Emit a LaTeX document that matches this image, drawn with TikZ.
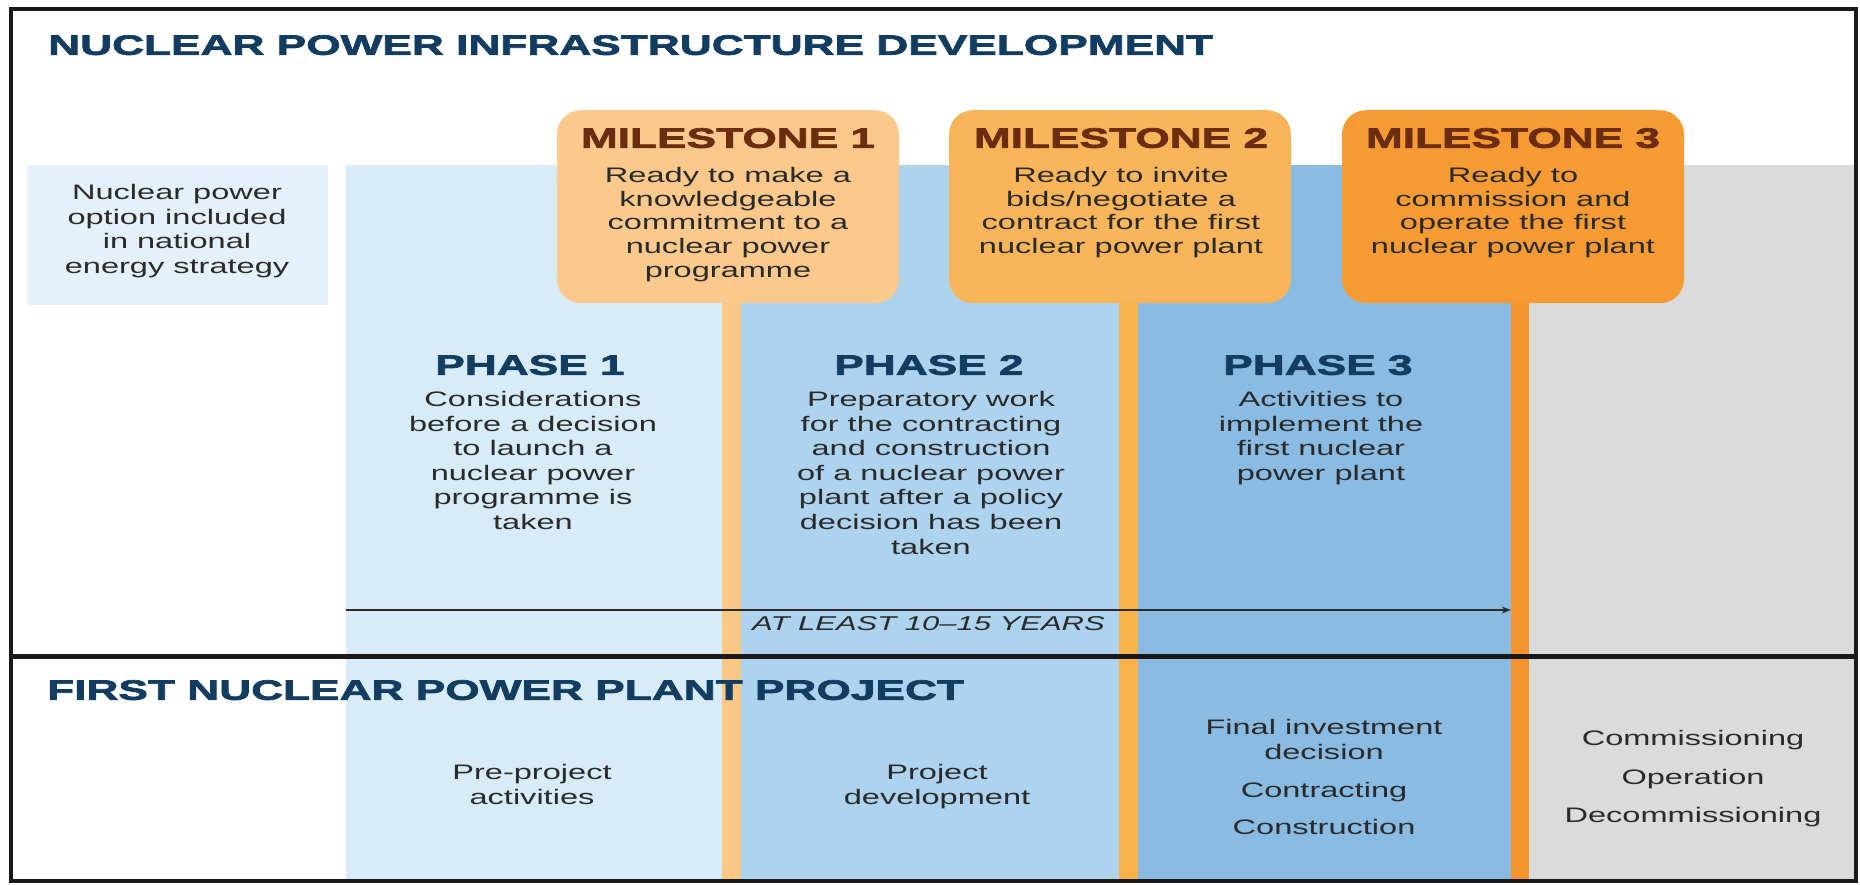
\documentclass[tikz,border=0pt]{standalone}
\usepackage{fontspec}
\setmainfont{Liberation Sans}[FakeStretch=1.55]
\newfontfamily\headfont{Liberation Sans Bold}[FakeStretch=1.58,FakeBold=2.6]
\usepackage{tikz}
\usetikzlibrary{arrows.meta,positioning}

\definecolor{navy}{HTML}{123D60}
\definecolor{msbrown}{HTML}{6B2C10}
\definecolor{txt}{HTML}{2A2A2A}
\definecolor{leftcol}{HTML}{E4F1FA}
\definecolor{ph1col}{HTML}{D7ECF8}
\definecolor{ph2col}{HTML}{ADD3EE}
\definecolor{ph3col}{HTML}{8ABCE3}
\definecolor{greycol}{HTML}{DBDBDB}
\definecolor{st1}{HTML}{F9C885}
\definecolor{st2}{HTML}{F8B24A}
\definecolor{st3}{HTML}{F6942E}
\definecolor{ms1}{HTML}{FBC98C}
\definecolor{ms2}{HTML}{F9B55A}
\definecolor{ms3}{HTML}{F69A33}

\begin{document}
\begin{tikzpicture}[x=1pt, y=-1pt, >=Stealth,
    body/.style={font=\fontsize{21}{24.6}\selectfont, text=txt, align=center, inner sep=0pt, anchor=north},
    msbody/.style={body, font=\fontsize{21}{23.7}\selectfont},
    head/.style={font=\headfont\fontsize{28}{32}\selectfont, text=navy, inner sep=0pt, anchor=north},
    mstitle/.style={head, text=msbrown},
    msbox/.style={rounded corners=24pt, minimum width=342pt, minimum height=193pt, inner sep=0pt, anchor=north}]
    \useasboundingbox (0,0) rectangle (1860,884);

    % Column backgrounds and milestone stripes
    \fill[leftcol] (27,165) rectangle (328,305);
    \fill[ph1col] (346,165) rectangle (722,880);
    \fill[st1] (722,165) rectangle (741,880);
    \fill[ph2col] (741,165) rectangle (1119,880);
    \fill[st2] (1119,165) rectangle (1138,880);
    \fill[ph3col] (1138,165) rectangle (1511,880);
    \fill[st3] (1511,165) rectangle (1529,880);
    \fill[greycol] (1529,165) rectangle (1856,880);

    % Titles
    \node[head, anchor=north west] (infra) at (48,35) {NUCLEAR POWER INFRASTRUCTURE DEVELOPMENT};
    \node[head, anchor=north west] (project) at (47,680) {FIRST NUCLEAR POWER PLANT PROJECT};

    \node[body] (option) at (177,184) {Nuclear power\\option included\\in national\\energy strategy};

    % Milestones
    \node[msbox, fill=ms1] (m1box) at (728,110) {};
    \node[msbox, fill=ms2] (m2box) at (1120,110) {};
    \node[msbox, fill=ms3] (m3box) at (1513,110) {};

    \node[mstitle] (m1title) at (728,128) {MILESTONE 1};
    \node[mstitle] (m2title) at (1121,128) {MILESTONE 2};
    \node[mstitle] (m3title) at (1513,128) {MILESTONE 3};

    \node[msbody] (m1text) at (728,167) {Ready to make a\\knowledgeable\\commitment to a\\nuclear power\\programme};
    \node[msbody] (m2text) at (1121,167) {Ready to invite\\bids/negotiate a\\contract for the first\\nuclear power plant};
    \node[msbody] (m3text) at (1513,167) {Ready to\\commission and\\operate the first\\nuclear power plant};

    % Phases
    \node[head] (ph1title) at (530,355) {PHASE 1};
    \node[head] (ph2title) at (929,355) {PHASE 2};
    \node[head] (ph3title) at (1318,355) {PHASE 3};

    \node[body] (ph1text) at (533,391) {Considerations\\before a decision\\to launch a\\nuclear power\\programme is\\taken};
    \node[body] (ph2text) at (931,391) {Preparatory work\\for the contracting\\and construction\\of a nuclear power\\plant after a policy\\decision has been\\taken};
    \node[body] (ph3text) at (1321,391) {Activities to\\implement the\\first nuclear\\power plant};

    % Duration arrow
    \coordinate (yrsstart) at (346,610);
    \coordinate (yrsend) at (1511,610);
    \draw[->, line width=1.4pt, txt] (yrsstart) -- (yrsend)
        node[midway, below=6pt, font=\itshape\fontsize{20}{24}\selectfont, text=txt, inner sep=0pt] (yrs) {AT LEAST 10--15 YEARS};

    % Project stages
    \node[body] (preproj) at (532,764) {Pre-project\\activities};
    \node[body] (projdev) at (937,764) {Project\\development};
    \node[body] (fid) at (1324,719) {Final investment\\decision\\[14pt]Contracting\\[12.5pt]Construction};
    \node[body] (operate) at (1693,730) {Commissioning\\[14pt]Operation\\[14pt]Decommissioning};

    % Frame and separator
    \draw[line width=5pt, black!90] (11,656) -- (1856,656);
    \draw[line width=4pt, black!90] (11,9) rectangle (1856,881);
\end{tikzpicture}
\end{document}
